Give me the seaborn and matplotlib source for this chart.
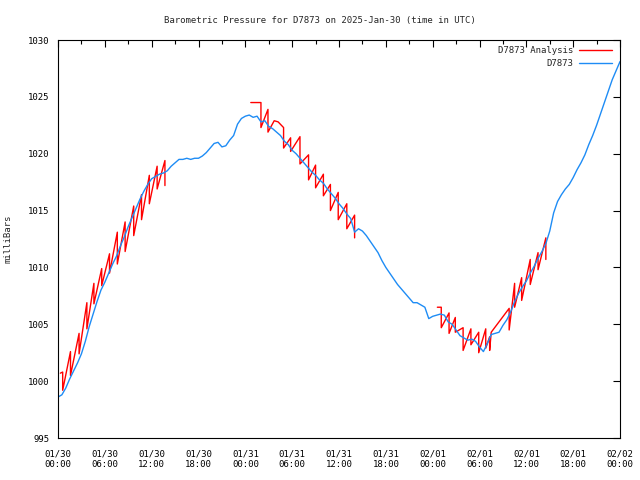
import matplotlib
matplotlib.use("Agg")
import matplotlib.pyplot as plt
from matplotlib.lines import Line2D
import seaborn as sns
import pandas as pd
import numpy as np

# Observed pressure (hours since 01/30 00:00 UTC, mbar)
blue_hours = [0.0, 0.5, 1.0, 1.5, 2.0, 2.5, 3.0, 3.5, 4.0, 4.5, 5.0, 5.5, 6.0, 6.5, 7.0, 7.5,
              8.0, 8.5, 9.0, 9.5, 10.0, 10.5, 11.0, 11.5, 12.0, 12.5, 13.0, 13.5, 14.0, 14.5,
              15.0, 15.5, 16.0, 16.5, 17.0, 17.5, 18.0, 18.5, 19.0, 19.5, 20.0, 20.5, 21.0,
              21.5, 22.0, 22.5, 23.0, 23.5, 24.0, 24.5, 25.0, 25.5, 26.0, 26.5, 27.0, 27.5,
              28.0, 28.5, 29.0, 29.5, 30.0, 30.5, 31.0, 31.5, 32.0, 32.5, 33.0, 33.5, 34.0,
              34.5, 35.0, 35.5, 36.0, 36.5, 37.0, 37.5, 38.0, 38.5, 39.0, 39.5, 40.0, 40.5,
              41.0, 41.5, 42.0, 42.5, 43.0, 43.5, 44.0, 44.5, 45.0, 45.5, 46.0, 46.5, 47.0,
              47.5, 48.0, 48.5, 49.0, 49.5, 50.0, 50.5, 51.0, 51.5, 52.0, 52.5, 53.0, 53.5,
              54.0, 54.5, 55.0, 55.5, 56.0, 56.5, 57.0, 57.5, 58.0, 58.5, 59.0, 59.5, 60.0,
              60.5, 61.0, 61.5, 62.0, 62.5, 63.0, 63.5, 64.0, 64.5, 65.0, 65.5, 66.0, 66.5,
              67.0, 67.5, 68.0, 68.5, 69.0, 69.5, 70.0, 70.5, 71.0, 71.5, 72.0]
blue_mb = [998.6, 998.8, 999.4, 1000.2, 1000.9, 1001.6, 1002.4, 1003.5, 1004.8, 1005.9, 1007.0,
           1008.0, 1008.7, 1009.5, 1010.3, 1011.0, 1011.9, 1012.7, 1013.6, 1014.4, 1015.2,
           1016.0, 1016.7, 1017.3, 1017.8, 1018.0, 1018.2, 1018.3, 1018.5, 1018.9, 1019.2,
           1019.5, 1019.5, 1019.6, 1019.5, 1019.6, 1019.6, 1019.8, 1020.1, 1020.5, 1020.9,
           1021.0, 1020.6, 1020.7, 1021.2, 1021.6, 1022.6, 1023.1, 1023.3, 1023.4, 1023.2,
           1023.3, 1022.8, 1022.9, 1022.4, 1022.2, 1021.9, 1021.6, 1021.1, 1020.8, 1020.3,
           1020.0, 1019.6, 1019.2, 1018.8, 1018.4, 1018.1, 1017.7, 1017.4, 1016.9, 1016.5,
           1016.1, 1015.6, 1015.2, 1014.7, 1014.3, 1013.1, 1013.4, 1013.2, 1012.8, 1012.3,
           1011.8, 1011.3, 1010.6, 1010.0, 1009.5, 1009.0, 1008.5, 1008.1, 1007.7, 1007.3,
           1006.9, 1006.9, 1006.7, 1006.5, 1005.5, 1005.7, 1005.8, 1005.9, 1005.8, 1005.2,
           1005.0, 1004.5, 1004.0, 1003.8, 1003.6, 1003.7, 1003.5, 1003.0, 1002.6, 1003.3,
           1004.1, 1004.2, 1004.3, 1004.9, 1005.4, 1006.1, 1007.0, 1007.7, 1008.3, 1008.8,
           1009.5, 1010.1, 1010.8, 1011.4, 1012.1, 1013.2, 1014.8, 1015.8, 1016.4, 1016.9,
           1017.3, 1017.9, 1018.6, 1019.2, 1019.9, 1020.8, 1021.6, 1022.5, 1023.5, 1024.5,
           1025.5, 1026.5, 1027.3, 1028.1]

# Analysis runs (three stretches of hourly sawtooth)
red_seg1_hours = [0.3, 0.6, 0.6, 1.6, 1.6, 2.7, 2.7, 3.7, 3.7, 4.6, 4.6, 5.6, 5.6, 6.6, 6.6,
                  7.6, 7.6, 8.6, 8.6, 9.7, 9.7, 10.7, 10.7, 11.7, 11.7, 12.7, 12.7, 13.7, 13.7]
red_seg1_mb = [1000.7, 1000.8, 999.2, 1002.6, 1000.5, 1004.2, 1002.4, 1006.9, 1004.6,
               1008.6, 1006.8, 1009.9, 1008.4, 1011.2, 1009.5, 1013.1, 1010.3, 1014.0, 1011.4,
               1015.4, 1012.8, 1016.4, 1014.2, 1018.1, 1015.6, 1018.9, 1016.9, 1019.4, 1017.2]

red_seg2_hours = [24.7, 26.0, 26.0, 26.9, 26.9, 27.7, 28.2, 28.9, 28.9, 29.8, 29.8, 31.0, 31.0,
                  32.1, 32.1, 33.0, 33.0, 34.0, 34.0, 34.9, 34.9, 35.9, 35.9, 37.0, 37.0,
                  38.0, 38.0]
red_seg2_mb = [1024.5, 1024.5, 1022.3, 1023.9, 1021.9, 1022.9, 1022.8, 1022.3, 1020.5,
               1021.4, 1020.2, 1021.5, 1019.1, 1019.9, 1017.7, 1019.0, 1017.0, 1018.2, 1016.3,
               1017.3, 1015.0, 1016.6, 1014.2, 1015.6, 1013.4, 1014.6, 1012.6]

red_seg3_hours = [48.6, 49.1, 49.1, 50.1, 50.1, 50.9, 50.9, 51.9, 51.9, 52.9, 52.9, 53.9, 53.9,
                  54.8, 54.8, 55.3, 55.3, 55.5, 57.8, 57.8, 58.5, 58.5, 59.4, 59.4, 60.5, 60.5,
                  61.5, 61.5, 62.5, 62.5]
red_seg3_mb = [1006.5, 1006.5, 1004.7, 1006.0, 1004.2, 1005.6, 1004.3, 1004.7, 1002.7,
               1004.6, 1003.2, 1004.3, 1002.5, 1004.6, 1002.9, 1003.9, 1002.7, 1004.3, 1006.4,
               1004.5, 1008.6, 1006.5, 1009.1, 1007.1, 1010.7, 1008.5, 1011.3, 1009.8, 1012.6,
               1010.7]

tick_hours = [0, 6, 12, 18, 24, 30, 36, 42, 48, 54, 60, 66, 72]
tick_labels = ["01/30\n00:00", "01/30\n06:00", "01/30\n12:00", "01/30\n18:00",
               "01/31\n00:00", "01/31\n06:00", "01/31\n12:00", "01/31\n18:00",
               "02/01\n00:00", "02/01\n06:00", "02/01\n12:00", "02/01\n18:00",
               "02/02\n00:00"]

obs = pd.DataFrame({"hour": blue_hours, "mb": blue_mb})
ana = pd.concat([
    pd.DataFrame({"hour": red_seg1_hours, "mb": red_seg1_mb, "run": 1}),
    pd.DataFrame({"hour": red_seg2_hours, "mb": red_seg2_mb, "run": 2}),
    pd.DataFrame({"hour": red_seg3_hours, "mb": red_seg3_mb, "run": 3}),
], ignore_index=True)

sns.set_style("white")
plt.rcParams["font.family"] = ["DejaVu Sans Mono"]
plt.rcParams["font.size"] = 6.5

red = "#ff0000"
blue = "#1e8cf5"

fig = plt.figure(figsize=(6.4, 4.8), dpi=100)
ax = fig.add_axes([58 / 640, 42 / 480, 562 / 640, 398 / 480])

sns.lineplot(data=ana, x="hour", y="mb", units="run", estimator=None, sort=False,
             color=red, linewidth=1.0, ax=ax)
sns.lineplot(data=obs, x="hour", y="mb", estimator=None, sort=False,
             color=blue, linewidth=1.0, ax=ax)

ax.set_xlim(0, 72)
ax.set_ylim(995, 1030)
ax.set_xticks(tick_hours)
ax.set_xticklabels(tick_labels)
ax.set_xticks(list(range(3, 72, 6)), minor=True)
ax.set_yticks(list(range(995, 1031, 5)))
ax.tick_params(axis="both", which="both", direction="in", top=True, right=True,
               labelsize=6.5, colors="black", width=0.8)
ax.tick_params(axis="both", which="major", length=5)
ax.tick_params(axis="x", which="major", pad=8)
ax.tick_params(axis="y", which="major", pad=6)
ax.tick_params(axis="x", which="minor", length=3)
for s in ax.spines.values():
    s.set_color("black")
    s.set_linewidth(0.8)

ax.set_xlabel("")
ax.set_ylabel("milliBars", fontsize=6.5, labelpad=11)
fig.text(0.5, 1 - 20 / 480, "Barometric Pressure for D7873 on 2025-Jan-30 (time in UTC)",
         ha="center", va="center", fontsize=6.5)

handles = [Line2D([], [], color=red, linewidth=1.0),
           Line2D([], [], color=blue, linewidth=1.0)]
ax.legend(handles, ["D7873 Analysis", "D7873"], loc="upper right",
          bbox_to_anchor=(1.0, 1.005), markerfirst=False, frameon=False,
          handlelength=3.6, handletextpad=0.7, labelspacing=0.4, fontsize=6.5)

fig.savefig("out.png", dpi=100)
